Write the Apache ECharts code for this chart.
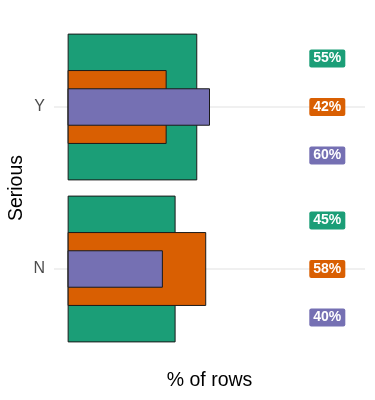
<!DOCTYPE html>
<html><head><meta charset="utf-8">
<script src="https://cdn.jsdelivr.net/npm/echarts@6/dist/echarts.min.js"></script>
<style>html,body{margin:0;padding:0;background:#fff}#c{width:375px;height:400px}</style>
</head><body><div id="c"></div>
<script>
// ---- data ----
const categories = ['N', 'Y'];            // bottom to top
const greenValues = [45.4, 54.6];
const orangeValues = [58.4, 41.6];
const purpleValues = [40, 60];
const xAxisTitle = '% of rows';
const yAxisTitle = 'Serious';
const labelColumnX = 110;                 // data units where value boxes sit

// ---- styles ----
const colors = ['#1B9E77', '#D95F02', '#7570B3'];
const bandFractions = [0.9, 0.45, 0.225];
const labelShift = [0.3, 0, -0.3];        // fraction of band, positive = up
const font = '"Liberation Sans", Arial, sans-serif';

function toData(vals) { return vals.map((v, i) => [i, v]); }

function barRender(frac, color) {
  return function (params, api) {
    const cat = api.value(0), val = api.value(1);
    const s = api.coord([0, cat]);
    const e = api.coord([val, cat]);
    const band = api.size([0, 1])[1];
    const h = band * frac;
    return {
      type: 'rect',
      shape: { x: s[0], y: s[1] - h / 2, width: e[0] - s[0], height: h },
      style: { fill: color, stroke: '#1a1a1a', lineWidth: 1 }
    };
  };
}
function labelRender(shift, color) {
  return function (params, api) {
    const cat = api.value(0), val = api.value(1);
    const p = api.coord([labelColumnX, cat]);
    const band = api.size([0, 1])[1];
    return {
      type: 'text',
      x: p[0], y: p[1] - shift * band,
      style: {
        text: Math.round(val) + '%',
        fill: '#fff', font: 'bold 14px ' + font,
        align: 'center', verticalAlign: 'middle',
        backgroundColor: color, padding: [3, 4, 1, 4], borderRadius: 2
      }
    };
  };
}

const valueSets = [greenValues, orangeValues, purpleValues];
const series = [];
valueSets.forEach((vals, k) => {
  series.push({ type: 'custom', renderItem: barRender(bandFractions[k], colors[k]),
    data: toData(vals), encode: { x: 1, y: 0 }, z: 2 + k, silent: true });
});
valueSets.forEach((vals, k) => {
  series.push({ type: 'custom', renderItem: labelRender(labelShift[k], colors[k]),
    data: toData(vals), encode: { x: 1, y: 0 }, z: 10, silent: true });
});

const chart = echarts.init(document.getElementById('c'), null, { renderer: 'canvas' });
chart.setOption({
  animation: false,
  backgroundColor: '#fff',
  grid: { left: 54, right: 10, top: 26, bottom: 50, containLabel: false, outerBoundsMode: 'none' },
  xAxis: {
    type: 'value', min: -6, max: 126,
    axisLabel: { show: false }, axisTick: { show: false }, axisLine: { show: false },
    splitLine: { show: false },
    name: xAxisTitle, nameLocation: 'middle', nameGap: 21, nameMoveOverlap: false,
    nameTextStyle: { fontSize: 19.5, color: '#000', fontFamily: font }
  },
  yAxis: {
    type: 'category', data: categories,
    axisLine: { show: false }, axisTick: { show: false },
    axisLabel: { fontSize: 16, color: '#4d4d4d', margin: 9, fontFamily: font },
    splitLine: { show: true, alignWithLabel: true, lineStyle: { color: '#ebebeb', width: 1.7 } },
    name: yAxisTitle, nameLocation: 'middle', nameGap: 27, nameMoveOverlap: false,
    nameTextStyle: { fontSize: 19.5, color: '#000', fontFamily: font }
  },
  series: series
});
</script></body></html>
